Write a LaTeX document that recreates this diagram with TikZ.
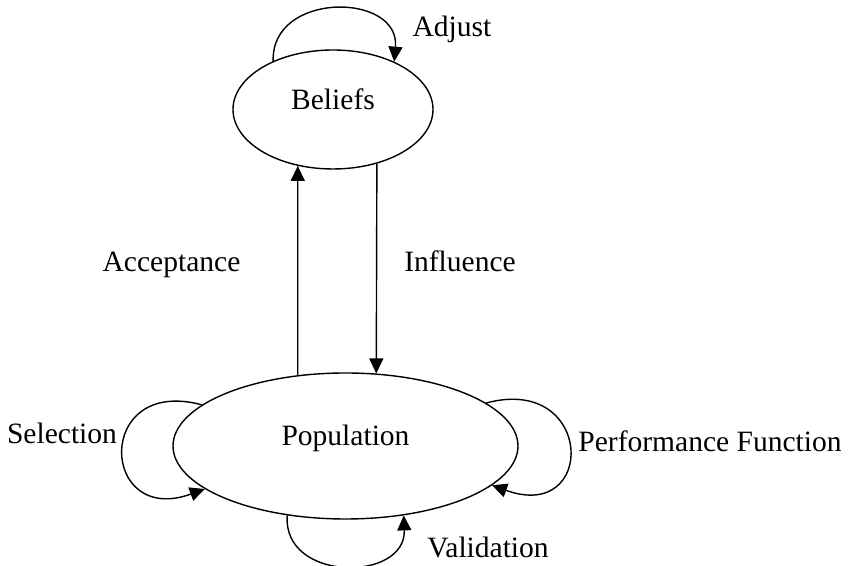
\documentclass[tikz,border=0pt]{standalone}
\usepackage{fontspec}
\setmainfont{Liberation Serif}
\usetikzlibrary{shapes.geometric,arrows.meta}

\begin{document}
\begin{tikzpicture}[
  font=\fontsize{16.8}{20}\selectfont,
  enode/.style={ellipse, draw, line width=0.8pt, inner sep=0pt, text height=8pt, text depth=8pt},
  lbl/.style={anchor=base, inner sep=0pt},
  arr/.style={-{Triangle[length=3mm,width=2.8mm]}, line width=0.8pt}]
\useasboundingbox (0,0) rectangle (16.96,11.32);
\node[enode, minimum width=4cm, minimum height=2.38cm] (bel) at (6.66,9.13) {Beliefs};
\node[enode, minimum width=6.9cm, minimum height=2.92cm] (pop) at (6.91,2.4) {Population};
% up and down between the two
\draw[arr] (pop.124) -- (bel.238);
\draw[arr] (bel.309) -- (pop.67);
% self loops
\draw[arr] (bel.141) .. controls +(92:1.4) and +(85:1.4) .. (bel.38);
\draw[arr] (pop.164) .. controls +(165:2.24) and +(200:2.24) .. (pop.197);
\draw[arr] (pop.17) .. controls +(15:2.24) and +(340:2.24) .. (pop.345);
\draw[arr] (pop.230) .. controls +(-0.1,-1.34) and +(0.05,-1.34) .. (pop.310);
% labels
\node[lbl] (adj) at (9.04,10.58) {Adjust};
\node[lbl] (acc) at (3.43,5.88) {Acceptance};
\node[lbl] (inf) at (9.2,5.88) {Influence};
\node[lbl] (sel) at (1.24,2.44) {Selection};
\node[lbl] (perf) at (14.2,2.28) {Performance Function};
\node[lbl] (val) at (9.76,0.16) {Validation};
\end{tikzpicture}
\end{document}
